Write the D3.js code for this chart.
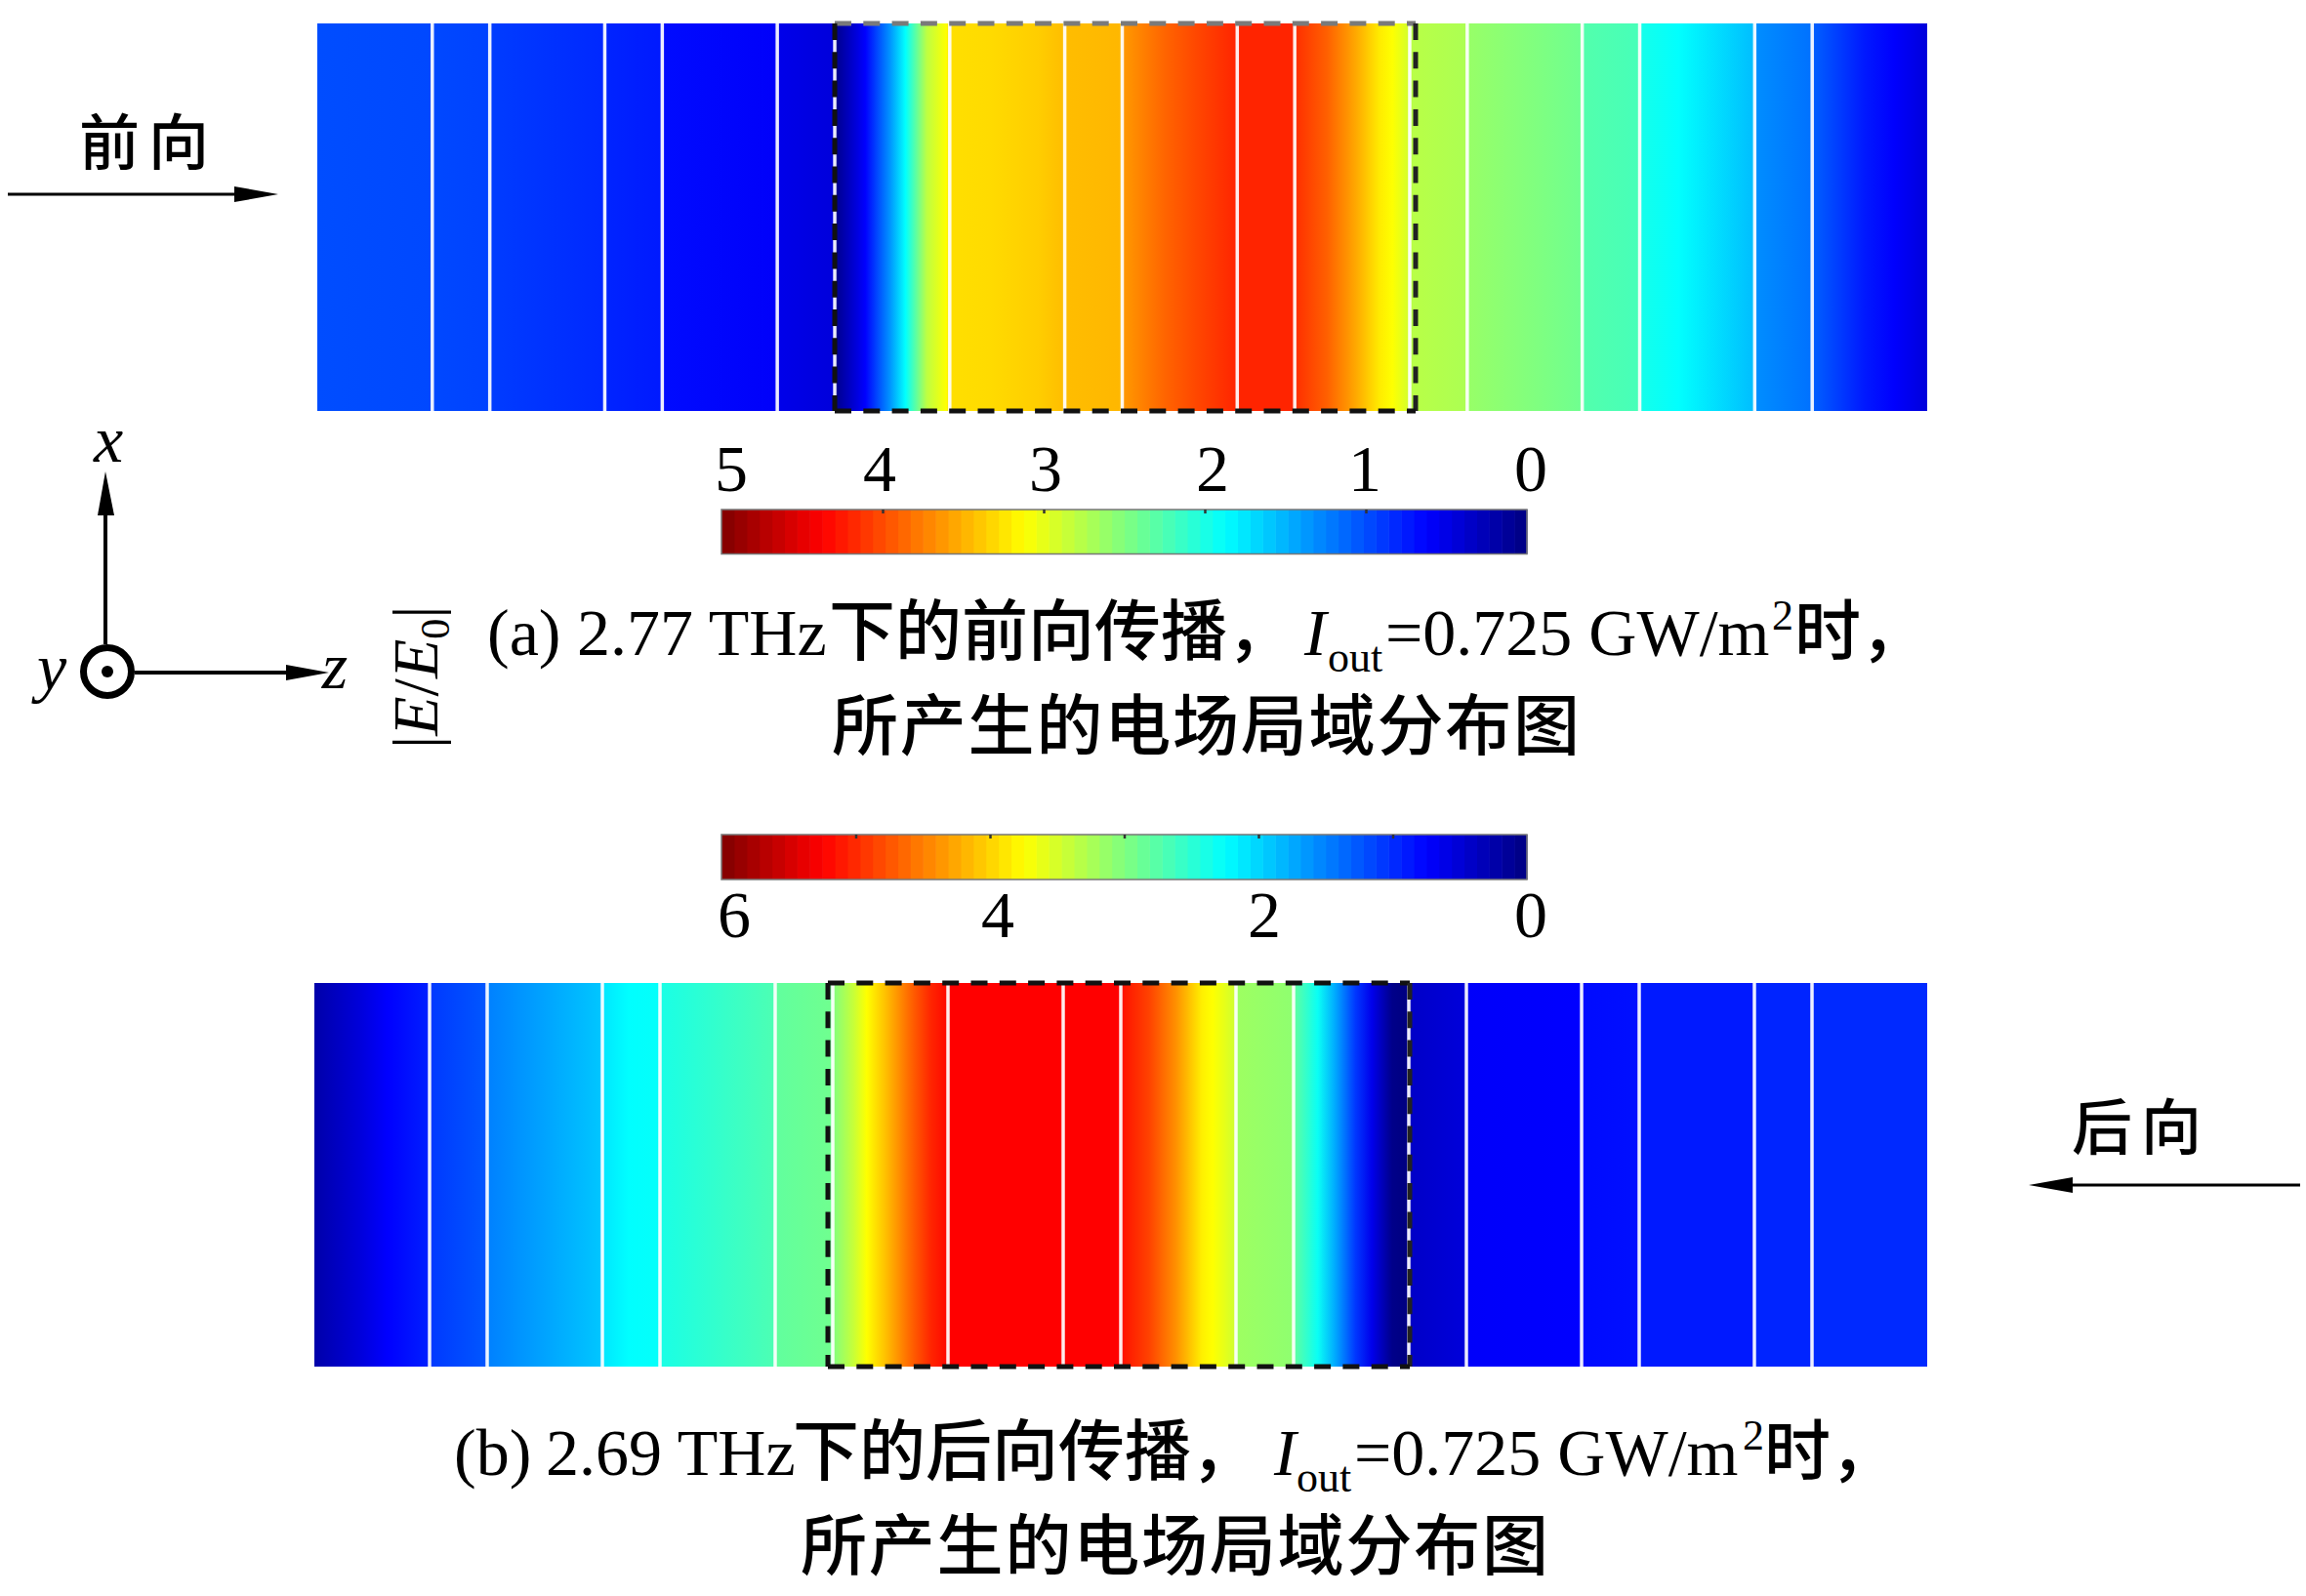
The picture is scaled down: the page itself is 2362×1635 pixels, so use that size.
<!DOCTYPE html>
<html>
<head>
<meta charset="utf-8">
<script src="https://cdn.jsdelivr.net/npm/d3@7"></script>
<style>
  body { margin: 0; background: #fff; }
  svg { display: block; }
  text { font-family: "Liberation Serif", "Noto Sans CJK SC", serif; fill: #000; }
  .cjk { font-family: "Noto Sans CJK SC", sans-serif; font-weight: 500; }
</style>
</head>
<body>
<div id="chart"></div>
<script>
// Layer boundaries, in units of the thin layer thickness
var layerEdges = [2, 3, 5, 6, 8, 9, 11, 13, 14, 16, 17, 19, 20, 22, 23, 25, 26];

// |E/E0| read along z, panel (a). Repeated z = jump at a layer boundary
var zA = [0, 2, 3, 3, 5, 5, 6, 6, 8, 8, 9, 9, 9.53, 9.96, 10.23, 10.6, 10.94, 11, 11.69, 12.55, 13, 14, 14,
  14.73, 15.27, 16, 17, 17, 17.57, 18.06, 18.48, 18.7, 19, 19, 20, 20, 22, 22, 23, 23, 23.68, 25, 25, 26, 26, 26.9, 27.42, 28];
var fieldA = [1.0, 0.98, 0.95, 0.92, 0.82, 0.8, 0.75, 0.68, 0.6, 0.52, 0.45, 0.05, 0.62, 1.35, 1.88, 2.8, 3.12, 3.28, 3.3, 3.37, 3.45, 3.48, 3.62,
  3.88, 4.02, 4.2, 4.2, 4.15, 3.9, 3.55, 3.22, 3.12, 2.9, 2.78, 2.72, 2.62, 2.42, 2.28, 2.22, 1.98, 1.88, 1.55, 1.32, 1.18, 1.1, 0.75, 0.62, 0.45];

// |E/E0| read along z, panel (b)
var zB = [0, 0.8, 1.27, 2, 2, 3, 3, 5, 5, 5.46, 6, 6, 8, 8, 9, 9, 9.36, 9.59, 9.93, 10.32, 10.71, 10.97, 11, 14, 14,
  14.49, 14.95, 15.41, 15.59, 15.97, 16, 17, 17, 17.42, 17.71, 18.07, 18.36, 18.71, 18.95, 19, 20, 20, 22, 22, 23, 23, 25, 25, 26, 26, 28];
var fieldB = [0.24, 0.54, 0.75, 0.93, 1.08, 1.26, 1.5, 1.92, 2.1, 2.25, 2.28, 2.4, 2.7, 2.82, 2.91, 3.0, 3.42, 3.75, 4.14, 4.62, 5.04, 5.19, 5.25, 5.25, 5.16,
  4.86, 4.41, 3.84, 3.75, 3.48, 3.18, 3.09, 2.82, 2.31, 1.77, 1.08, 0.63, 0.06, 0, 0.42, 0.54, 0.72, 0.75, 0.81, 0.84, 0.9, 0.9, 0.96, 0.96, 0.99, 0.99];

// Colorbar ticks
var ticksA = [4, 3, 2, 1];
var labelsA = [5, 4, 3, 2, 1, 0];
var labelShiftA = [10, -3, 2, 8, -1, 4];
var ticksB = [5, 4, 3, 2, 1];
var labelsB = [6, 4, 2, 0];
var labelShiftB = [13, 8, 6, 4];

// Captions
var captionTail = "所产生的电场局域分布图";

var svg = d3.select("#chart").append("svg")
  .attr("width", 2362)
  .attr("height", 1635);
var defs = svg.append("defs");

// MATLAB jet
var jet = d3.scaleLinear()
  .domain([0, 0.125, 0.375, 0.625, 0.875, 1])
  .range(["#000080", "#0000ff", "#00ffff", "#ffff00", "#ff0000", "#800000"])
  .clamp(true);

function drawStrip(id, z, field, vmax, x0, x1, top, bottom, boxLeft, boxRight, topDash) {
  var x = d3.scaleLinear().domain([0, 28]).range([x0, x1]);

  var grad = defs.append("linearGradient").attr("id", id);
  grad.selectAll("stop")
    .data(z)
    .enter()
    .append("stop")
    .attr("offset", d => d / 28)
    .attr("stop-color", (d, i) => jet(field[i] / vmax));

  svg.append("rect")
    .attr("x", x0)
    .attr("y", top)
    .attr("width", x1 - x0)
    .attr("height", bottom - top)
    .attr("fill", `url(#${id})`);

  svg.append("g").selectAll("line")
    .data(layerEdges)
    .enter()
    .append("line")
    .attr("x1", d => x(d))
    .attr("x2", d => x(d))
    .attr("y1", top)
    .attr("y2", bottom)
    .attr("stroke", "#fff")
    .attr("stroke-width", 3.5)
    .attr("opacity", 0.92);

  // Dashed box around the nonlinear region
  var sides = [
    [boxLeft, top, boxRight, top, topDash],
    [boxRight, top, boxRight, bottom, "#222"],
    [boxLeft, bottom, boxRight, bottom, "#111"],
    [boxLeft, top, boxLeft, bottom, "#111"]
  ];
  svg.append("g").selectAll("line")
    .data(sides)
    .enter()
    .append("line")
    .attr("x1", d => d[0])
    .attr("y1", d => d[1])
    .attr("x2", d => d[2])
    .attr("y2", d => d[3])
    .attr("stroke", d => d[4])
    .attr("stroke-width", 5)
    .attr("stroke-dasharray", "17,12.3");
}

function drawColorbar(vmax, x0, x1, top, bottom, ticks, labels, shifts, labelY) {
  var levels = d3.range(64);
  var band = d3.scaleBand().domain(levels).range([x1, x0]);
  var value = d3.scaleLinear().domain([vmax, 0]).range([x0, x1]);

  svg.append("g").selectAll("rect")
    .data(levels)
    .enter()
    .append("rect")
    .attr("x", d => band(d))
    .attr("y", top)
    .attr("width", band.bandwidth() + 0.6)
    .attr("height", bottom - top)
    .attr("fill", d => jet((d + 0.5) / 64));

  svg.append("rect")
    .attr("x", x0)
    .attr("y", top)
    .attr("width", x1 - x0)
    .attr("height", bottom - top)
    .attr("fill", "none")
    .attr("stroke", "#777")
    .attr("stroke-width", 1.5);

  // Small inward tick marks
  var axis = d3.axisTop(value).tickValues(ticks).tickSize(-4).tickFormat("");
  var g = svg.append("g").attr("transform", `translate(0, ${top})`).call(axis);
  g.select(".domain").remove();
  g.selectAll("line").attr("stroke", "#333").attr("stroke-width", 2.5);

  svg.append("g").selectAll("text")
    .data(labels)
    .enter()
    .append("text")
    .attr("x", (d, i) => value(d) + shifts[i])
    .attr("y", labelY)
    .attr("text-anchor", "middle")
    .attr("font-size", 68)
    .text(d => d);
}

function drawLine(pieces, baseline) {
  var t = svg.append("text").attr("y", baseline);
  pieces.forEach(function(p) {
    t.append("tspan")
      .attr("x", p.x)
      .attr("y", baseline + (p.dy || 0))
      .attr("class", p.cjk ? "cjk" : null)
      .attr("font-size", p.size || 68)
      .attr("font-style", p.italic ? "italic" : null)
      .text(p.s);
  });
}

function arrow(x1, xBase, xTip, y, halfHead, width) {
  svg.append("line")
    .attr("x1", x1).attr("x2", xBase).attr("y1", y).attr("y2", y)
    .attr("stroke", "#000").attr("stroke-width", width);
  svg.append("path")
    .attr("d", `M${xTip},${y}L${xBase},${y - halfHead}L${xBase},${y + halfHead}Z`);
}

drawStrip("fieldA", zA, fieldA, 5, 325, 1974, 24, 421, 855, 1450, "#7a7a7a");
drawStrip("fieldB", zB, fieldB, 6, 322, 1974, 1007, 1400, 848, 1444, "#111");

drawColorbar(5, 739, 1564, 522, 567.5, ticksA, labelsA, labelShiftA, 503);
drawColorbar(6, 739, 1564, 855, 901, ticksB, labelsB, labelShiftB, 960);

// Direction labels and arrows
svg.append("text").attr("class", "cjk").attr("x", 81).attr("y", 169)
  .attr("font-size", 62).attr("letter-spacing", 9).text("前向");
arrow(8, 240, 285, 199, 8, 3);
svg.append("text").attr("class", "cjk").attr("x", 2122).attr("y", 1178)
  .attr("font-size", 62).attr("letter-spacing", 9).text("后向");
arrow(2356, 2123, 2078, 1214, 8, 3);

// Coordinate system
svg.append("line").attr("x1", 108).attr("x2", 108).attr("y1", 660).attr("y2", 520)
  .attr("stroke", "#000").attr("stroke-width", 4);
svg.append("path").attr("d", "M108,483L100,528L117,528Z");
svg.append("circle").attr("cx", 110).attr("cy", 688).attr("r", 24.5)
  .attr("fill", "none").attr("stroke", "#000").attr("stroke-width", 7);
svg.append("circle").attr("cx", 110).attr("cy", 688).attr("r", 6);
svg.append("line").attr("x1", 138).attr("x2", 300).attr("y1", 689).attr("y2", 689)
  .attr("stroke", "#000").attr("stroke-width", 4);
svg.append("path").attr("d", "M337,689L293,681L293,697Z");
[["x", 111, 473], ["y", 53, 707], ["z", 343, 705]].forEach(function(a) {
  svg.append("text").attr("x", a[1]).attr("y", a[2]).attr("text-anchor", "middle")
    .attr("font-size", 68).attr("font-style", "italic").text(a[0]);
});

// Colorbar title, rotated
var title = svg.append("text")
  .attr("transform", "translate(448, 767) rotate(-90)")
  .attr("font-size", 66);
title.append("tspan").text("|");
title.append("tspan").attr("font-style", "italic").text("E");
title.append("tspan").text("/");
title.append("tspan").attr("font-style", "italic").text("E");
title.append("tspan").attr("font-size", 42).attr("dy", 12).text("0");
title.append("tspan").attr("dy", -12).text("|");

// Captions
drawLine([
  { s: "(a)", x: 499 },
  { s: "2.77 THz", x: 591 },
  { s: "下的前向传播，", x: 849, cjk: true, size: 68 },
  { s: "I", x: 1336, italic: true },
  { s: "out", x: 1360, size: 44, dy: 17 },
  { s: "=0.725 GW/m", x: 1419 },
  { s: "2", x: 1815, size: 44, dy: -26 },
  { s: "时，", x: 1838, cjk: true, size: 68 }
], 671);
svg.append("text").attr("class", "cjk").attr("x", 852).attr("y", 768)
  .attr("font-size", 68).attr("letter-spacing", 1.8).text(captionTail);

drawLine([
  { s: "(b)", x: 465 },
  { s: "2.69 THz", x: 559 },
  { s: "下的后向传播，", x: 812, cjk: true, size: 68 },
  { s: "I", x: 1305, italic: true },
  { s: "out", x: 1328, size: 44, dy: 17 },
  { s: "=0.725 GW/m", x: 1387 },
  { s: "2", x: 1785, size: 44, dy: -26 },
  { s: "时，", x: 1807, cjk: true, size: 68 }
], 1511);
svg.append("text").attr("class", "cjk").attr("x", 820).attr("y", 1608)
  .attr("font-size", 68).attr("letter-spacing", 1.8).text(captionTail);
</script>
</body>
</html>
